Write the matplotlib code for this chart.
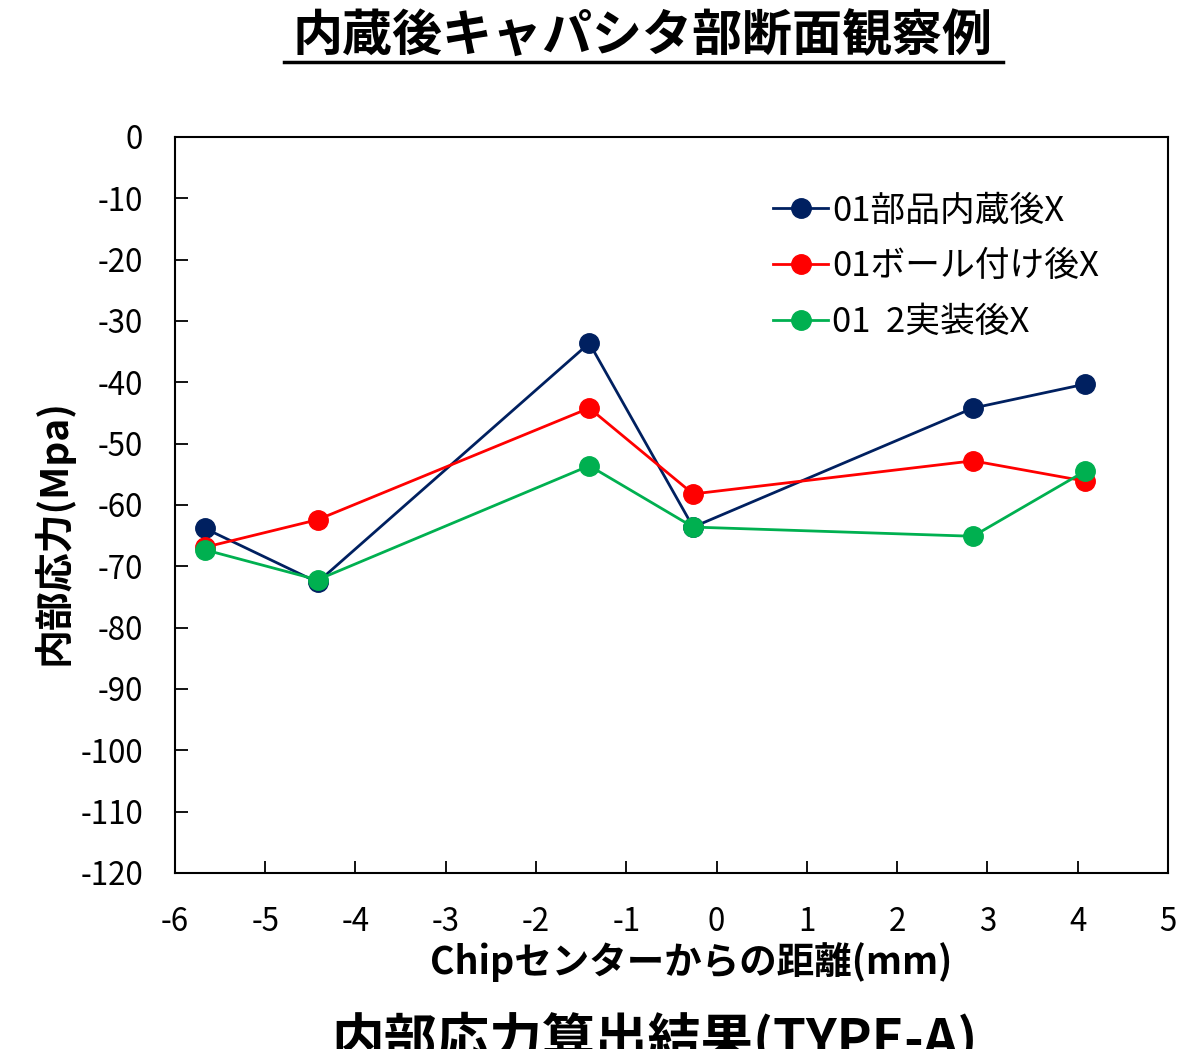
import matplotlib
matplotlib.use("Agg")
import matplotlib.pyplot as plt
from matplotlib.lines import Line2D

plt.rcParams['font.family'] = ['Noto Sans CJK JP', 'DejaVu Sans']
plt.rcParams['axes.unicode_minus'] = False

# Distance from chip center (mm)
distance = [-5.67, -4.42, -1.41, -0.26, 2.84, 4.08]

# Internal stress (MPa) per process stage
stress_embedded = [-63.8, -72.6, -33.6, -63.6, -44.2, -40.3]
stress_ball = [-66.9, -62.4, -44.2, -58.2, -52.8, -56.1]
stress_mount = [-67.3, -72.2, -53.6, -63.6, -65.1, -54.5]

series_labels = ["01部品内蔵後X", "01ボール付け後X", "01  2実装後X"]
series_colors = ["#002060", "#FF0000", "#00B050"]

x_ticks = list(range(-6, 6))
y_ticks = list(range(-120, 1, 10))

fig = plt.figure(figsize=(11.9, 10.49), dpi=100)
ax = fig.add_axes([0.147, 0.1678, 0.8345, 0.7016])

for ys, lab, col in zip([stress_embedded, stress_ball, stress_mount], series_labels, series_colors):
    ax.plot(distance, ys, color=col, lw=2.0, marker='o', markersize=14,
            markeredgecolor=col, label=lab)

ax.set_xlim(-6, 5)
ax.set_ylim(-120, 0)
ax.set_xticks(x_ticks)
ax.set_yticks(y_ticks)
ax.tick_params(axis='both', direction='in', length=9, width=1.3, labelsize=22.5)
ax.tick_params(axis='x', pad=24)
ax.tick_params(axis='y', pad=23)
for sp in ax.spines.values():
    sp.set_linewidth(1.5)

ax.set_xlabel("Chipセンターからの距離(mm)", fontsize=27, fontweight='bold')
ax.xaxis.set_label_coords(0.52, -0.094)
ax.set_ylabel("内部応力(Mpa)", fontsize=28, fontweight='bold')
ax.yaxis.set_label_coords(-0.102, 0.463)

leg = ax.legend(loc='upper left', bbox_to_anchor=(0.588, 0.942), frameon=False,
                fontsize=25, handlelength=1.6, handletextpad=0.1, labelspacing=0.6,
                borderaxespad=0)

# Page title with underline
fig.text(0.54, 0.964, "内蔵後キャパシタ部断面観察例", ha='center', va='center',
         fontsize=36, fontweight='bold')
fig.add_artist(Line2D([0.239, 0.843], [0.941, 0.941], color='black', lw=2.5,
                      transform=fig.transFigure))

# Bottom caption (partially beyond the lower edge)
fig.text(0.55, -0.018, "内部応力算出結果(TYPE-A)", ha='center', va='bottom',
         fontsize=38, fontweight='bold')

fig.savefig("out.png", dpi=100)
